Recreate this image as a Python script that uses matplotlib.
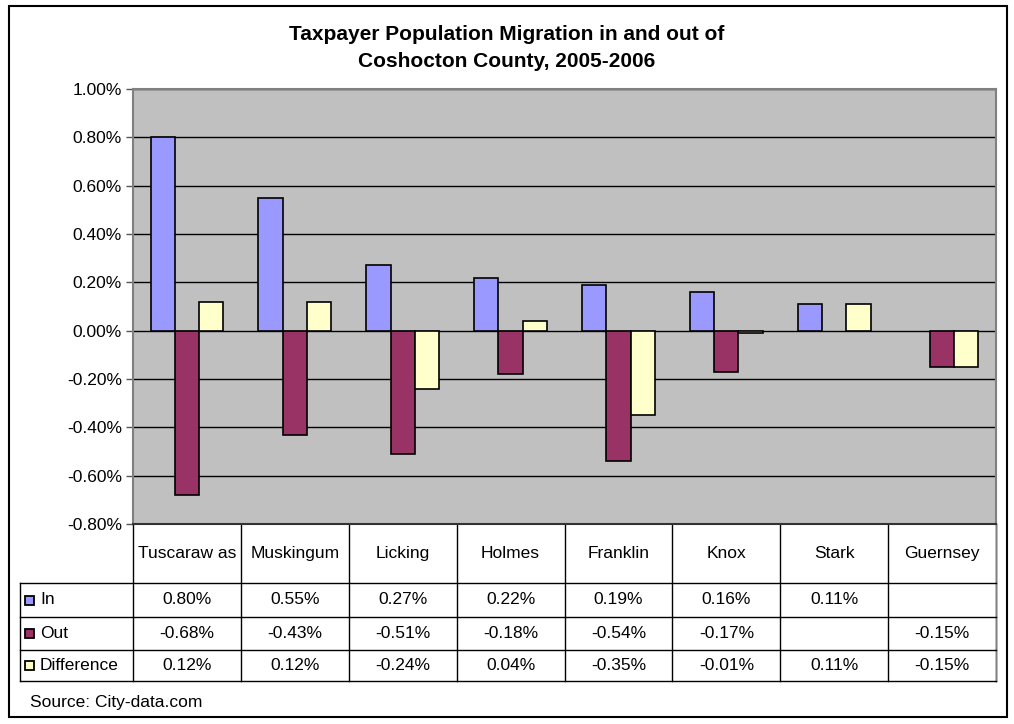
import numpy as np
import matplotlib.pyplot as plt
from matplotlib.lines import Line2D
from matplotlib.patches import Rectangle
from matplotlib.ticker import FuncFormatter

plt.rcParams['font.family'] = ['Liberation Sans', 'DejaVu Sans']

condados = ["Tuscaraw as", "Muskingum", "Licking", "Holmes", "Franklin", "Knox", "Stark", "Guernsey"]
entrada = [0.80, 0.55, 0.27, 0.22, 0.19, 0.16, 0.11, np.nan]
saida = [-0.68, -0.43, -0.51, -0.18, -0.54, -0.17, np.nan, -0.15]
diferenca = [0.12, 0.12, -0.24, 0.04, -0.35, -0.01, 0.11, -0.15]
series = ["In", "Out", "Difference"]
cores = ["#9999FF", "#993366", "#FFFFCC"]
yticks = [-0.8, -0.6, -0.4, -0.2, 0.0, 0.2, 0.4, 0.6, 0.8, 1.0]

W, H = 1014, 724
fig = plt.figure(figsize=(W / 100, H / 100), dpi=100)

def fx(px):
    return px / W

def fy(py):
    return 1 - py / H

# layout in pixels
esq, dir_, topo, base = 133, 996, 89, 524
tab_esq = 20
linhas = [524, 583, 617, 650, 681]
fonte = 12.5

# outer frame
fig.add_artist(Rectangle((fx(9), fy(717)), fx(1007) - fx(9), fy(6) - fy(717),
                         transform=fig.transFigure, fill=False, ec="black", lw=1.5))

ax = fig.add_axes([fx(esq), fy(base), fx(dir_) - fx(esq), fy(topo) - fy(base)])
ax.set_facecolor("#C0C0C0")

x = np.arange(len(condados))
larg = 0.225
for i, (vals, cor) in enumerate(zip([entrada, saida, diferenca], cores)):
    ax.bar(x + (i - 1) * larg, vals, larg, color=cor, edgecolor="black", linewidth=1.2, zorder=3)

ax.set_xlim(-0.5, len(condados) - 0.5)
ax.set_ylim(-0.8, 1.0)
ax.set_yticks(yticks)
ax.yaxis.set_major_formatter(FuncFormatter(lambda v, p: "%.2f%%" % v))
ax.set_xticks([])
ax.grid(axis="y", color="black", linewidth=1, zorder=1)
ax.tick_params(axis="y", length=5, width=1, color="#555555", labelsize=fonte, pad=3)
for lado in ["left", "top", "right"]:
    ax.spines[lado].set_color("#808080")
    ax.spines[lado].set_linewidth(1.5)
ax.spines["bottom"].set_visible(False)

fig.text(0.5, fy(48), "Taxpayer Population Migration in and out of\nCoshocton County, 2005-2006",
         ha="center", va="center", fontsize=15, fontweight="bold", linespacing=1.5)

# data table
passo = (dir_ - esq) / len(condados)
def linha(x0, y0, x1, y1, cor="black", lw=1):
    fig.add_artist(Line2D([fx(x0), fx(x1)], [fy(y0), fy(y1)], transform=fig.transFigure,
                          color=cor, lw=lw))

for k in range(len(condados) + 1):
    linha(esq + k * passo, linhas[0], esq + k * passo, linhas[-1])
linha(dir_, linhas[0], dir_, linhas[-1], "#808080")
linha(esq, linhas[0], dir_, linhas[0], "#333333", 1.5)
for yy in linhas[1:]:
    linha(tab_esq, yy, dir_, yy)
linha(tab_esq, linhas[1], tab_esq, linhas[-1])

for k, nome in enumerate(condados):
    fig.text(fx(esq + (k + 0.5) * passo), fy((linhas[0] + linhas[1]) / 2), nome,
             ha="center", va="center", fontsize=fonte)

for r, (nome, vals, cor) in enumerate(zip(series, [entrada, saida, diferenca], cores)):
    yc = (linhas[r + 1] + linhas[r + 2]) / 2
    fig.add_artist(Rectangle((fx(25), fy(yc + 4.5)), fx(9), 9 / H, transform=fig.transFigure,
                             fc=cor, ec="black", lw=1.3))
    fig.text(fx(40), fy(yc), nome, ha="left", va="center", fontsize=fonte)
    for k, v in enumerate(vals):
        if np.isnan(v):
            continue
        fig.text(fx(esq + (k + 0.5) * passo), fy(yc), "%.2f%%" % v,
                 ha="center", va="center", fontsize=fonte)

fig.text(fx(30), fy(703), "Source: City-data.com", ha="left", va="center", fontsize=fonte)

fig.savefig("out.png", dpi=100)
